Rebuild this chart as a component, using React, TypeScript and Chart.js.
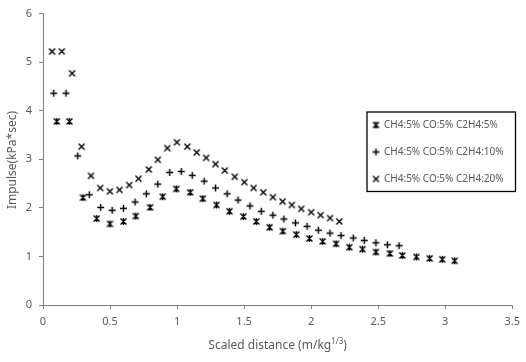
import React, { useEffect, useRef } from "react";
import { Chart, registerables } from "chart.js";
Chart.register(...registerables);

const SERIES_LABELS = [
  "CH4:5% CO:5% C2H4:5%",
  "CH4:5% CO:5% C2H4:10%",
  "CH4:5% CO:5% C2H4:20%",
];

const x5 = [0.103, 0.197, 0.298, 0.4, 0.499, 0.6, 0.692, 0.799, 0.893, 0.994, 1.098, 1.192, 1.294, 1.391, 1.495, 1.591, 1.69, 1.789, 1.889, 1.987, 2.086, 2.186, 2.285, 2.383, 2.483, 2.587, 2.68, 2.785, 2.884, 2.978, 3.07];
const y5 = [3.78, 3.78, 2.21, 1.78, 1.67, 1.72, 1.83, 2.01, 2.23, 2.39, 2.32, 2.19, 2.06, 1.93, 1.82, 1.72, 1.6, 1.52, 1.45, 1.37, 1.31, 1.26, 1.19, 1.15, 1.09, 1.06, 1.02, 0.99, 0.96, 0.94, 0.91];

const x10 = [0.08, 0.172, 0.259, 0.345, 0.43, 0.516, 0.6, 0.687, 0.771, 0.856, 0.945, 1.031, 1.113, 1.202, 1.287, 1.373, 1.455, 1.544, 1.628, 1.715, 1.797, 1.883, 1.97, 2.054, 2.141, 2.223, 2.314, 2.396, 2.483, 2.569, 2.656];
const y10 = [4.36, 4.36, 3.07, 2.27, 2.01, 1.95, 1.99, 2.12, 2.29, 2.49, 2.73, 2.75, 2.67, 2.55, 2.41, 2.29, 2.16, 2.04, 1.93, 1.85, 1.77, 1.69, 1.62, 1.54, 1.48, 1.43, 1.38, 1.33, 1.28, 1.24, 1.22];

const x20 = [0.068, 0.14, 0.217, 0.288, 0.358, 0.427, 0.499, 0.571, 0.643, 0.712, 0.789, 0.856, 0.927, 0.999, 1.076, 1.146, 1.217, 1.287, 1.356, 1.43, 1.502, 1.571, 1.643, 1.715, 1.787, 1.856, 1.926, 2.0, 2.071, 2.141, 2.21];
const y20 = [5.22, 5.22, 4.77, 3.26, 2.66, 2.41, 2.34, 2.37, 2.47, 2.6, 2.79, 2.99, 3.23, 3.35, 3.26, 3.14, 3.03, 2.9, 2.77, 2.64, 2.53, 2.41, 2.32, 2.22, 2.13, 2.06, 1.98, 1.91, 1.85, 1.79, 1.72];

const X_MIN = 0, X_MAX = 3.5, X_STEP = 0.5;
const Y_MIN = 0, Y_MAX = 6, Y_STEP = 1;
const X_TITLE = "Scaled distance (m/kg";
const X_TITLE_SUP = "1/3";
const Y_TITLE = "Impulse(kPa*sec)";

const FONT = "'Noto Sans', 'DejaVu Sans', sans-serif";
const TEXT = "#595959";
const AXIS = "#7f7f7f";

function makeMarker(kind: string): HTMLCanvasElement {
  const s = 9;
  const c = document.createElement("canvas");
  c.width = s;
  c.height = s;
  const ctx = c.getContext("2d")!;
  ctx.strokeStyle = "#000";
  ctx.lineWidth = 1.4;
  ctx.beginPath();
  if (kind === "x" || kind === "star") {
    ctx.moveTo(1.5, 1.5); ctx.lineTo(7.5, 7.5);
    ctx.moveTo(7.5, 1.5); ctx.lineTo(1.5, 7.5);
  }
  if (kind === "star") {
    ctx.moveTo(4.5, 1); ctx.lineTo(4.5, 8);
  }
  if (kind === "plus") {
    ctx.moveTo(4.5, 1); ctx.lineTo(4.5, 8);
    ctx.moveTo(1, 4.5); ctx.lineTo(8, 4.5);
  }
  ctx.stroke();
  return c;
}

export default function App() {
  const ref = useRef<HTMLCanvasElement>(null);
  useEffect(() => {
    const markers = [makeMarker("star"), makeMarker("plus"), makeMarker("x")];
    const xs = [x5, x10, x20];
    const ys = [y5, y10, y20];
    const datasets = SERIES_LABELS.map((label, i) => ({
      label,
      data: xs[i].map((x, j) => ({ x, y: ys[i][j] })),
      pointStyle: markers[i] as any,
      showLine: false,
      borderColor: "#000",
      backgroundColor: "#000",
    }));

    const customDraw = {
      id: "customDraw",
      afterDraw(chart: any) {
        const ctx = chart.ctx as CanvasRenderingContext2D;
        const area = chart.chartArea;
        ctx.save();
        // legend
        const lx = 367, ly = 112, lw = 148.5, lh = 79.5;
        ctx.strokeStyle = "#000";
        ctx.lineWidth = 1.3;
        ctx.strokeRect(lx, ly, lw, lh);
        ctx.font = `10px ${FONT}`;
        ctx.fillStyle = TEXT;
        ctx.textBaseline = "middle";
        ctx.textAlign = "left";
        const rows = [125, 152, 179];
        SERIES_LABELS.forEach((lab, i) => {
          const m = markers[i];
          ctx.drawImage(m, 376 - m.width / 2, rows[i] - m.height / 2);
          ctx.fillText(lab, 384, rows[i] + 0.5);
        });
        // x title
        const cx = (area.left + area.right) / 2;
        const ty = 346;
        ctx.font = `12px ${FONT}`;
        const w1 = ctx.measureText(X_TITLE).width;
        ctx.font = `8px ${FONT}`;
        const w2 = ctx.measureText(X_TITLE_SUP).width;
        ctx.font = `12px ${FONT}`;
        const w3 = ctx.measureText(")").width;
        let sx = cx - (w1 + w2 + w3) / 2;
        ctx.fillText(X_TITLE, sx, ty);
        sx += w1;
        ctx.font = `8px ${FONT}`;
        ctx.fillText(X_TITLE_SUP, sx, ty - 4);
        sx += w2;
        ctx.font = `12px ${FONT}`;
        ctx.fillText(")", sx, ty);
        // y title
        ctx.translate(13, 160);
        ctx.rotate(-Math.PI / 2);
        ctx.textAlign = "center";
        ctx.fillText(Y_TITLE, 0, 0);
        ctx.restore();
      },
    };

    const chart = new Chart(ref.current!, {
      type: "scatter",
      data: { datasets },
      options: {
        animation: false,
        responsive: false,
        layout: { padding: { top: 12, right: 11, left: 0, bottom: 0 } },
        plugins: { legend: { display: false }, tooltip: { enabled: false } },
        elements: { point: { radius: 4, hoverRadius: 4 } },
        scales: {
          x: {
            type: "linear",
            min: X_MIN,
            max: X_MAX,
            ticks: {
              stepSize: X_STEP,
              color: TEXT,
              font: { size: 11, family: FONT },
              padding: 6,
              maxRotation: 0,
              callback: (v: any) => String(v),
            },
            grid: { drawOnChartArea: false, drawTicks: true, tickLength: 4, color: AXIS },
            border: { display: true, color: AXIS, width: 1 },
            afterFit: (s: any) => { s.height = 57; },
          },
          y: {
            type: "linear",
            min: Y_MIN,
            max: Y_MAX,
            ticks: {
              stepSize: Y_STEP,
              color: TEXT,
              font: { size: 11, family: FONT },
              padding: 7,
              callback: (v: any) => String(v),
            },
            grid: { drawOnChartArea: false, drawTicks: true, tickLength: 4, color: AXIS },
            border: { display: true, color: AXIS, width: 1 },
            afterFit: (s: any) => { s.width = 43; },
          },
        },
      },
      plugins: [customDraw],
    });
    return () => chart.destroy();
  }, []);
  return (
    <div style={{ position: "absolute", left: 0, top: 0, width: 526, height: 362, background: "#fff" }}>
      <canvas ref={ref} width={526} height={362} style={{ display: "block" }} />
    </div>
  );
}
